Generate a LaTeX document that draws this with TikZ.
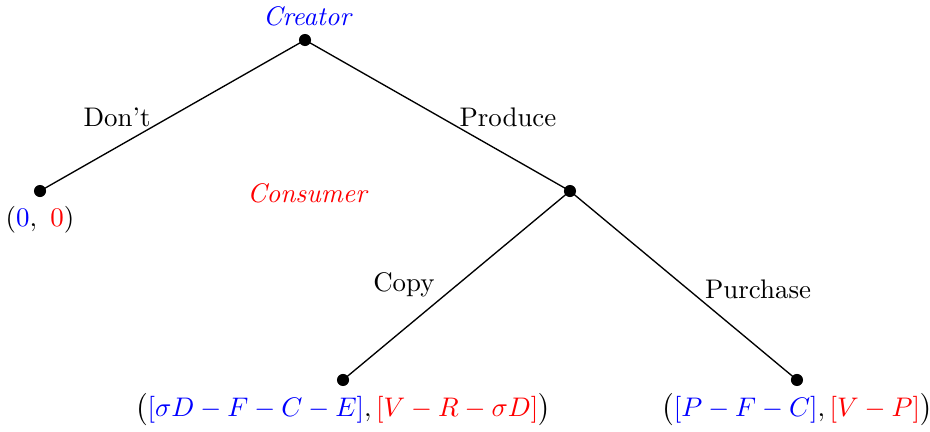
\documentclass[tikz,border=0pt]{standalone}
\usepackage{amsmath,amssymb}
\usepackage{xcolor}
\usetikzlibrary{positioning}

\tikzset{
  decision/.style={circle, fill=black, inner sep=0pt, minimum size=4.5pt},
  branch/.style={line width=0.5pt},
  player/.style={font=\itshape},
}

\begin{document}
\begin{tikzpicture}
  \useasboundingbox (0,0) rectangle (12.157,-5.647);

  % decision nodes
  \node[decision] (creator) at (3.987,-0.523) {};
  \node[decision] (dont) at (0.523,-2.497) {};
  \node[decision] (consumer) at (7.451,-2.497) {};
  \node[decision] (copy) at (4.484,-4.967) {};
  \node[decision] (purchase) at (10.418,-4.967) {};

  % branches
  \draw[branch] (creator.center) -- (dont.center);
  \draw[branch] (creator.center) -- (consumer.center);
  \draw[branch] (consumer.center) -- (copy.center);
  \draw[branch] (consumer.center) -- (purchase.center);

  % players
  \node[player, text=blue] (lblcreator) at (4.013,-0.209) {Creator};
  \node[player, text=red] (lblconsumer) at (4.013,-2.523) {Consumer};

  % actions
  \node (lbldont) at (1.53,-1.53) {Don't};
  \node (lblproduce) at (6.64,-1.53) {Produce};
  \node (lblcopy) at (5.28,-3.725) {Copy};
  \node (lblpurchase) at (9.91,-3.778) {Purchase};

  % payoffs
  \node (paydont) at (0.523,-2.876) {$(\textcolor{blue}{0},\ \textcolor{red}{0})$};
  \node (paycopy) at (4.484,-5.36) {$\big(\textcolor{blue}{[\sigma D-F-C-E]},\textcolor{red}{[V-R-\sigma D]}\big)$};
  \node (paypurchase) at (10.418,-5.36) {$\big(\textcolor{blue}{[P-F-C]},\textcolor{red}{[V-P]}\big)$};
\end{tikzpicture}
\end{document}
